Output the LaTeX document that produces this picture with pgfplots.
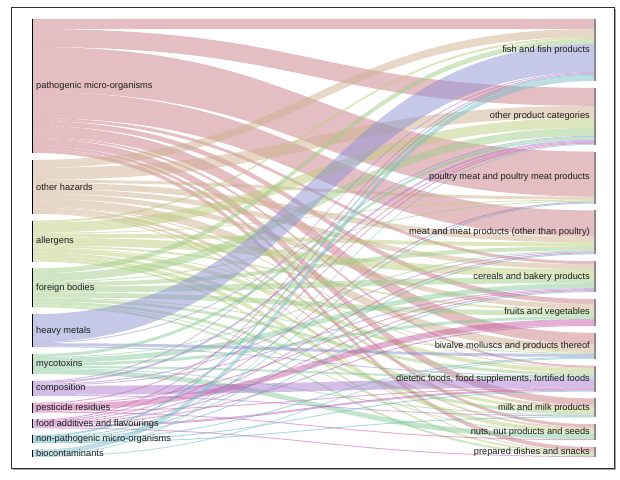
\documentclass[border=0pt]{standalone}
\usepackage{pgfplots}
\pgfplotsset{compat=1.18}
\usepackage{pgfplotstable}
\usepackage{fontspec}
\setmainfont{Liberation Sans}

\definecolor{hz0}{RGB}{201,125,135}
\definecolor{hz1}{RGB}{205,175,141}
\definecolor{hz2}{RGB}{189,205,125}
\definecolor{hz3}{RGB}{161,205,135}
\definecolor{hz4}{RGB}{141,145,209}
\definecolor{hz5}{RGB}{135,201,155}
\definecolor{hz6}{RGB}{169,125,209}
\definecolor{hz7}{RGB}{201,95,165}
\definecolor{hz8}{RGB}{185,95,185}
\definecolor{hz9}{RGB}{95,181,189}
\definecolor{hz10}{RGB}{125,189,201}
\definecolor{lbl}{RGB}{30,30,30}
\definecolor{framecol}{RGB}{45,45,45}

\newcommand\labelfont{\fontsize{9.3}{11}\selectfont}

% flows: rows = hazards (sources, in order of \leftnodes), columns = product categories (in order of \rightnodes)
\pgfplotstableread{
c0 c1 c2 c3 c4 c5 c6 c7 c8 c9 c10
10 18 45 26 3 5 11 2 7 3 4
8 12 3 6 5 5 8 1 3 2 1
2 10 1 4 8 2 1 4 3 4 2
5 8 1 4 6 5 1 3 3 1 2
28 1 0 0 0 0 3 1 0 0 0
0 3 0 1 5 3 0 2 1 5 0
1 2 0 1 1 0 0 9 1 0 0
0 1 0 0 1 6 0 1 0 1 0
1 1 1 1 1 1 0 2 0 0 1
2 0 1 1 1 0 1 1 1 0 0
5 1 0 0 0 0 1 0 0 0 0
}\flows

\pgfplotstableread[col sep=semicolon]{
top;label
19;pathogenic micro-organisms
159.8;other hazards
220.6;allergens
268.4;foreign bodies
314.2;heavy metals
354.0;mycotoxins
380.8;composition
402.6;pesticide residues
419.4;food additives and flavourings
435.2;non-pathogenic micro-organisms
450.0;biocontaminants
}\leftnodes

\pgfplotstableread[col sep=semicolon]{
top;label
19;fish and fish products
87.8;other product categories
151.6;poultry meat and poultry meat products
210.4;meat and meat products (other than poultry)
261.2;cereals and bakery products
299.0;fruits and vegetables
332.8;bivalve molluscs and products thereof
365.6;dietetic foods, food supplements, fortified foods
398.4;milk and milk products
424.2;nuts, nut products and seeds
447.0;prepared dishes and snacks
}\rightnodes

% ---- build the flow bands from the table ----
\gdef\flowpaths{}
\gdef\nodebars{}
\foreach \j in {0,...,10}{\expandafter\xdef\csname roff\j\endcsname{0}}
\foreach \i in {0,...,10}{%
  \pgfplotstablegetelem{\i}{top}\of\leftnodes
  \xdef\ltop{\pgfplotsretval}%
  \xdef\loff{0}%
  \foreach \j in {0,...,10}{%
    \edef\getcmd{\noexpand\pgfplotstablegetelem{\i}{c\j}\noexpand\of\noexpand\flows}\getcmd
    \let\fv\pgfplotsretval
    \pgfplotstablegetelem{\j}{top}\of\rightnodes
    \let\rtop\pgfplotsretval
    \ifdim\fv pt>0pt
      \pgfmathsetmacro\ya{\ltop+\loff}%
      \pgfmathsetmacro\yb{\rtop+\csname roff\j\endcsname}%
      \pgfmathsetmacro\yc{\ya+\fv}%
      \pgfmathsetmacro\yd{\yb+\fv}%
      \xdef\flowpaths{\unexpanded\expandafter{\flowpaths}%
        \noexpand\fill[hz\i, fill opacity=0.5] (axis cs:33,\ya) .. controls (axis cs:313.5,\ya) and (axis cs:313.5,\yb) .. (axis cs:594,\yb) -- (axis cs:594,\yd) .. controls (axis cs:313.5,\yd) and (axis cs:313.5,\yc) .. (axis cs:33,\yc) -- cycle;}%
      \pgfmathsetmacro\tmp{\loff+\fv}\xdef\loff{\tmp}%
      \pgfmathsetmacro\tmp{\csname roff\j\endcsname+\fv}\expandafter\xdef\csname roff\j\endcsname{\tmp}%
    \fi
  }%
  \pgfmathsetmacro\lbot{\ltop+\loff}%
  \pgfmathsetmacro\lmid{\ltop+0.5*\loff}%
  \pgfplotstablegetelem{\i}{label}\of\leftnodes
  \xdef\nodebars{\unexpanded\expandafter{\nodebars}%
    \noexpand\addplot[black, line width=1.4pt] coordinates {(32.2,\ltop) (32.2,\lbot)};%
    \noexpand\node[anchor=west, inner sep=0pt, font=\noexpand\labelfont, text=lbl] at (axis cs:36,\lmid) {\pgfplotsretval};}%
}
\foreach \j in {0,...,10}{%
  \pgfplotstablegetelem{\j}{top}\of\rightnodes
  \let\rtop\pgfplotsretval
  \pgfmathsetmacro\rbot{\rtop+\csname roff\j\endcsname}%
  \pgfmathsetmacro\rmid{0.5*(\rtop+\rbot)}%
  \pgfplotstablegetelem{\j}{label}\of\rightnodes
  \xdef\nodebars{\unexpanded\expandafter{\nodebars}%
    \noexpand\addplot[black!45, line width=1.6pt] coordinates {(595,\rtop) (595,\rbot)};%
    \noexpand\node[anchor=east, inner sep=0pt, font=\noexpand\labelfont, text=lbl] at (axis cs:590,\rmid) {\pgfplotsretval};}%
}

\begin{document}
\begin{tikzpicture}
\begin{axis}[
  scale only axis, width=620bp, height=479bp,
  xmin=0, xmax=620, ymin=0, ymax=479,
  y dir=reverse, hide axis, clip=false]
  \path (axis cs:0,0) rectangle (axis cs:620,479);
  \flowpaths
  \nodebars
  \draw[black!35, line width=1.6bp] (axis cs:615.3,9) -- (axis cs:615.3,469.3) -- (axis cs:13,469.3);
  \draw[framecol, line width=1bp] (axis cs:11.5,7.5) rectangle (axis cs:614,468);
\end{axis}
\end{tikzpicture}
\end{document}
